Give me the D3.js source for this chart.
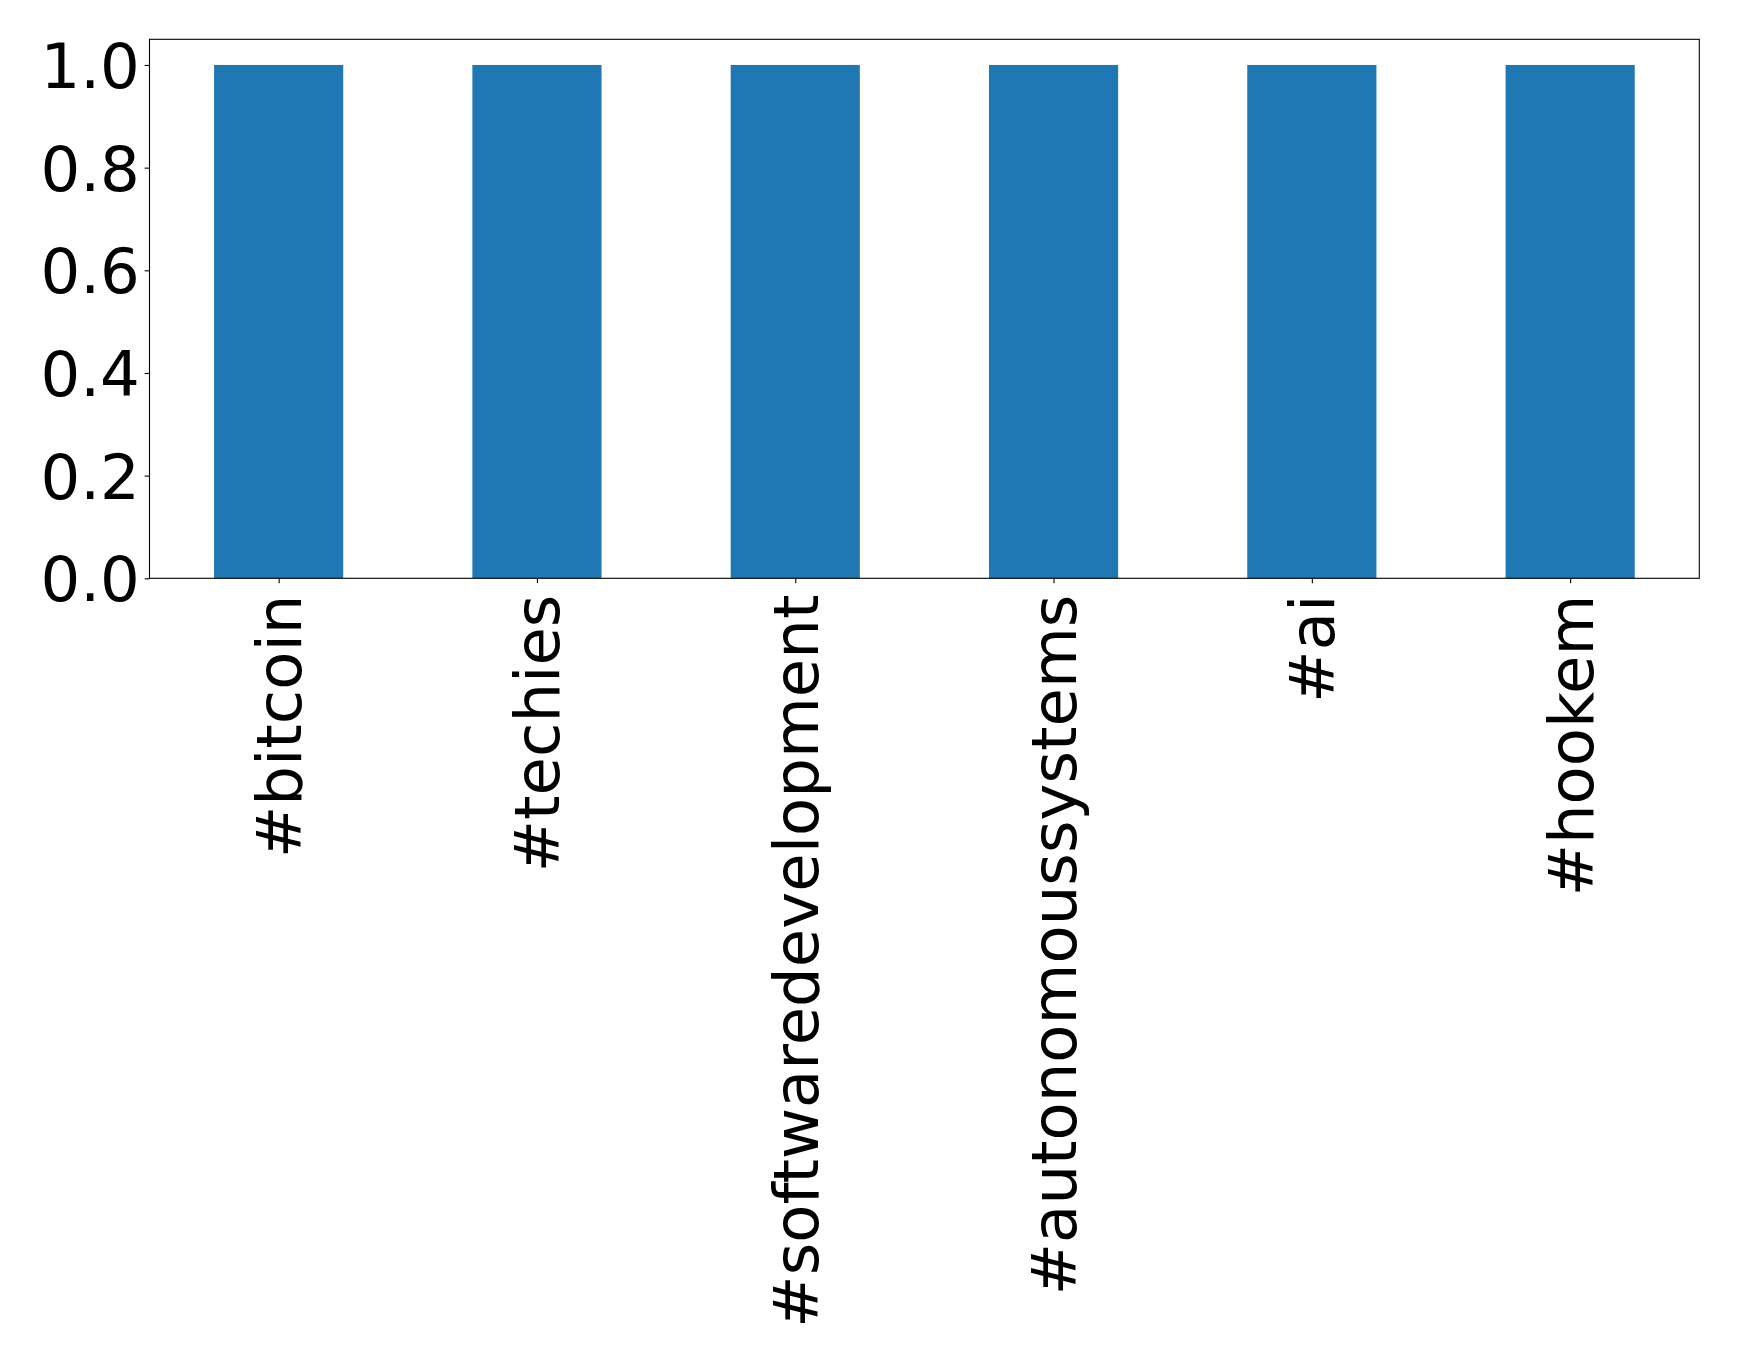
<!DOCTYPE html>
<html><head><meta charset="utf-8">
<script src="https://cdn.jsdelivr.net/npm/d3@7"></script>
<style>body{margin:0;background:#fff}svg{display:block}</style>
</head><body>
<script>
const categories = ["#bitcoin","#techies","#softwaredevelopment","#autonomoussystems","#ai","#hookem"];
const values = [1,1,1,1,1,1];
const yTicks = [0.0,0.2,0.4,0.6,0.8,1.0];

const W=1739,H=1361;
const m={left:149.5,top:39.3,right:1739-1699.3,bottom:1361-578.3};
const svg=d3.select("body").append("svg").attr("width",W).attr("height",H);
const iw=W-m.left-m.right, ih=H-m.top-m.bottom;
const g=svg.append("g").attr("transform",`translate(${m.left},${m.top})`);
const x=d3.scaleLinear().domain([-0.5,categories.length-0.5]).range([0,iw]);
const y=d3.scaleLinear().domain([0,1.05]).range([ih,0]);
const fs="62.5px";
g.selectAll("rect.bar").data(values).join("rect").attr("class","bar")
 .attr("x",(d,i)=>x(i-0.25)).attr("width",(d,i)=>x(i+0.25)-x(i-0.25))
 .attr("y",d=>y(d)).attr("height",d=>y(0)-y(d)).attr("fill","#1f77b4");
const ya=g.append("g").call(d3.axisLeft(y).tickValues(yTicks).tickFormat(d3.format(".1f")).tickSize(4.86).tickPadding(4.86));
ya.selectAll("text").attr("font-family","DejaVu Sans").attr("font-size",fs).attr("fill","#000").attr("dy","0.36em");
ya.select(".domain").remove();
const xa=g.append("g").attr("transform",`translate(0,${ih})`).call(d3.axisBottom(x).tickValues(d3.range(categories.length)).tickFormat(i=>categories[i]).tickSize(4.86).tickPadding(4.86));
xa.select(".domain").remove();
xa.selectAll("text").attr("font-family","DejaVu Sans").attr("font-size",fs).attr("fill","#000")
 .attr("transform","rotate(-90)").attr("text-anchor","end").attr("x",-16.3).attr("y",0).attr("dy","0.35em");
g.append("rect").attr("width",iw).attr("height",ih).attr("fill","none").attr("stroke","#000").attr("stroke-width",1.1);
g.selectAll(".tick line").attr("stroke","#000").attr("stroke-width",1.1);
</script>
</body></html>
